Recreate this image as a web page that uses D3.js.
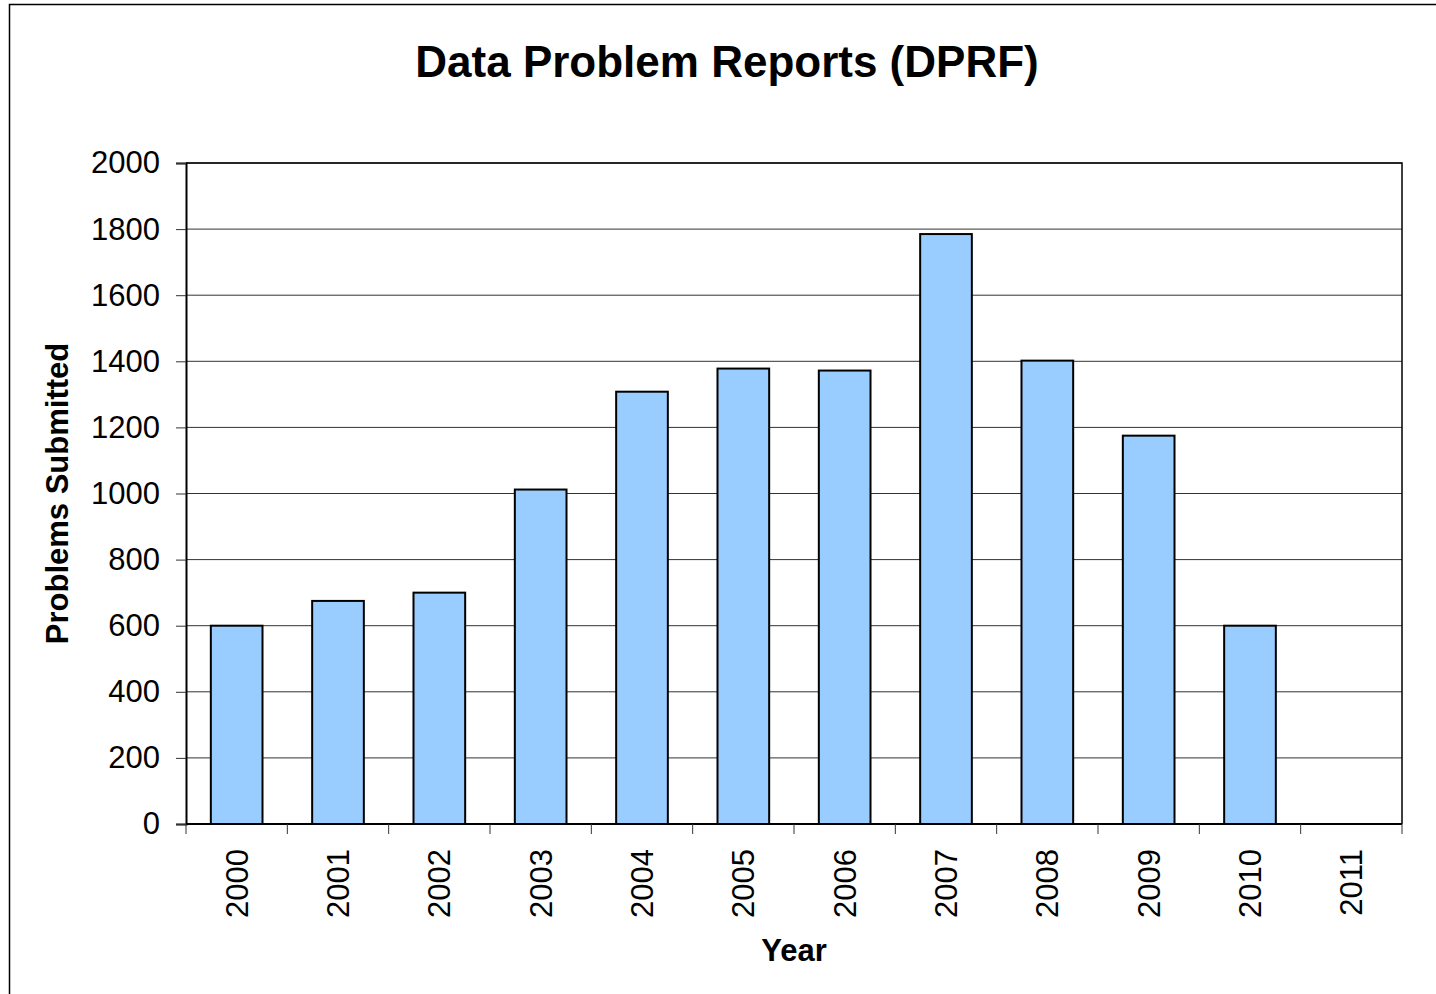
<!DOCTYPE html>
<html>
<head>
<meta charset="utf-8">
<script src="https://cdn.jsdelivr.net/npm/d3@7"></script>
<style>
  body { margin: 0; background: #fff; }
  svg { display: block; font-family: "Liberation Sans", Arial, sans-serif; }
</style>
</head>
<body>
<div id="chart"></div>
<script>
const years = ["2000", "2001", "2002", "2003", "2004", "2005", "2006", "2007", "2008", "2009", "2010", "2011"];
const problems = [600, 675, 700, 1012, 1308, 1378, 1372, 1785, 1402, 1175, 600, 0];
const yTicks = [0, 200, 400, 600, 800, 1000, 1200, 1400, 1600, 1800, 2000];

const width = 1436, height = 994;
const margin = { top: 163, right: 34, bottom: 170, left: 186 };
const innerW = width - margin.left - margin.right;
const innerH = height - margin.top - margin.bottom;

const svg = d3.select("#chart").append("svg")
  .attr("width", width)
  .attr("height", height);

// outer frame
svg.append("rect")
  .attr("x", 9.5).attr("y", 4.5)
  .attr("width", width).attr("height", height)
  .attr("fill", "none")
  .attr("stroke", "#000")
  .attr("stroke-width", 1.5);

const g = svg.append("g")
  .attr("transform", `translate(${margin.left},${margin.top})`);

const x = d3.scaleBand()
  .domain(years)
  .range([0, innerW])
  .paddingInner(0.49)
  .paddingOuter(0.245);

const xEdges = d3.scaleLinear().domain([0, years.length]).range([0, innerW]);

const y = d3.scaleLinear()
  .domain([0, 2000])
  .range([innerH, 0]);

// gridlines
g.selectAll(".grid")
  .data(yTicks.slice(1))
  .join("line")
  .attr("class", "grid")
  .attr("x1", 0).attr("x2", innerW)
  .attr("y1", d => y(d)).attr("y2", d => y(d))
  .attr("stroke", "#333")
  .attr("stroke-width", 1);

// plot frame top/right
g.append("path")
  .attr("d", `M0,0H${innerW}V${innerH}`)
  .attr("fill", "none")
  .attr("stroke", "#000")
  .attr("stroke-width", 1.5);

// bars
g.selectAll(".bar")
  .data(problems)
  .join("rect")
  .attr("class", "bar")
  .attr("x", (d, i) => x(years[i]))
  .attr("y", d => y(d))
  .attr("width", x.bandwidth())
  .attr("height", d => innerH - y(d))
  .attr("fill", "#99ccff")
  .attr("stroke", d => d > 0 ? "#000" : "none")
  .attr("stroke-width", 2);

// y axis
const yAxis = g.append("g")
  .call(d3.axisLeft(y).tickValues(yTicks).tickSize(10).tickPadding(16).tickFormat(d3.format("d")));
yAxis.select(".domain").attr("stroke-width", 2);
yAxis.selectAll(".tick line").attr("stroke", "#333");
yAxis.selectAll("text")
  .attr("fill", "#000")
  .style("font-size", "31px")
  .style("font-family", "Liberation Sans, Arial, sans-serif");

// x axis
const xAxis = g.append("g")
  .attr("transform", `translate(0,${innerH})`);
xAxis.append("line")
  .attr("x1", 0).attr("x2", innerW)
  .attr("stroke", "#000").attr("stroke-width", 2);
xAxis.selectAll(".xtick")
  .data(d3.range(years.length + 1))
  .join("line")
  .attr("class", "xtick")
  .attr("x1", d => xEdges(d)).attr("x2", d => xEdges(d))
  .attr("y1", 0).attr("y2", 10)
  .attr("stroke", "#333");
xAxis.selectAll(".xlabel")
  .data(years)
  .join("text")
  .attr("class", "xlabel")
  .attr("transform", d => `translate(${x(d) + x.bandwidth() / 2},25) rotate(-90)`)
  .attr("text-anchor", "end")
  .attr("dy", "0.35em")
  .style("font-size", "31px")
  .text(d => d);

// axis titles
svg.append("text")
  .attr("x", margin.left + innerW / 2)
  .attr("y", 961)
  .attr("text-anchor", "middle")
  .style("font-size", "31px")
  .style("font-weight", "bold")
  .text("Year");

svg.append("text")
  .attr("transform", `translate(68,${margin.top + innerH / 2}) rotate(-90)`)
  .attr("text-anchor", "middle")
  .style("font-size", "31px")
  .style("font-weight", "bold")
  .text("Problems Submitted");

svg.append("text")
  .attr("x", 727)
  .attr("y", 77)
  .attr("text-anchor", "middle")
  .style("font-size", "44px")
  .style("font-weight", "bold")
  .text("Data Problem Reports (DPRF)");
</script>
</body>
</html>
